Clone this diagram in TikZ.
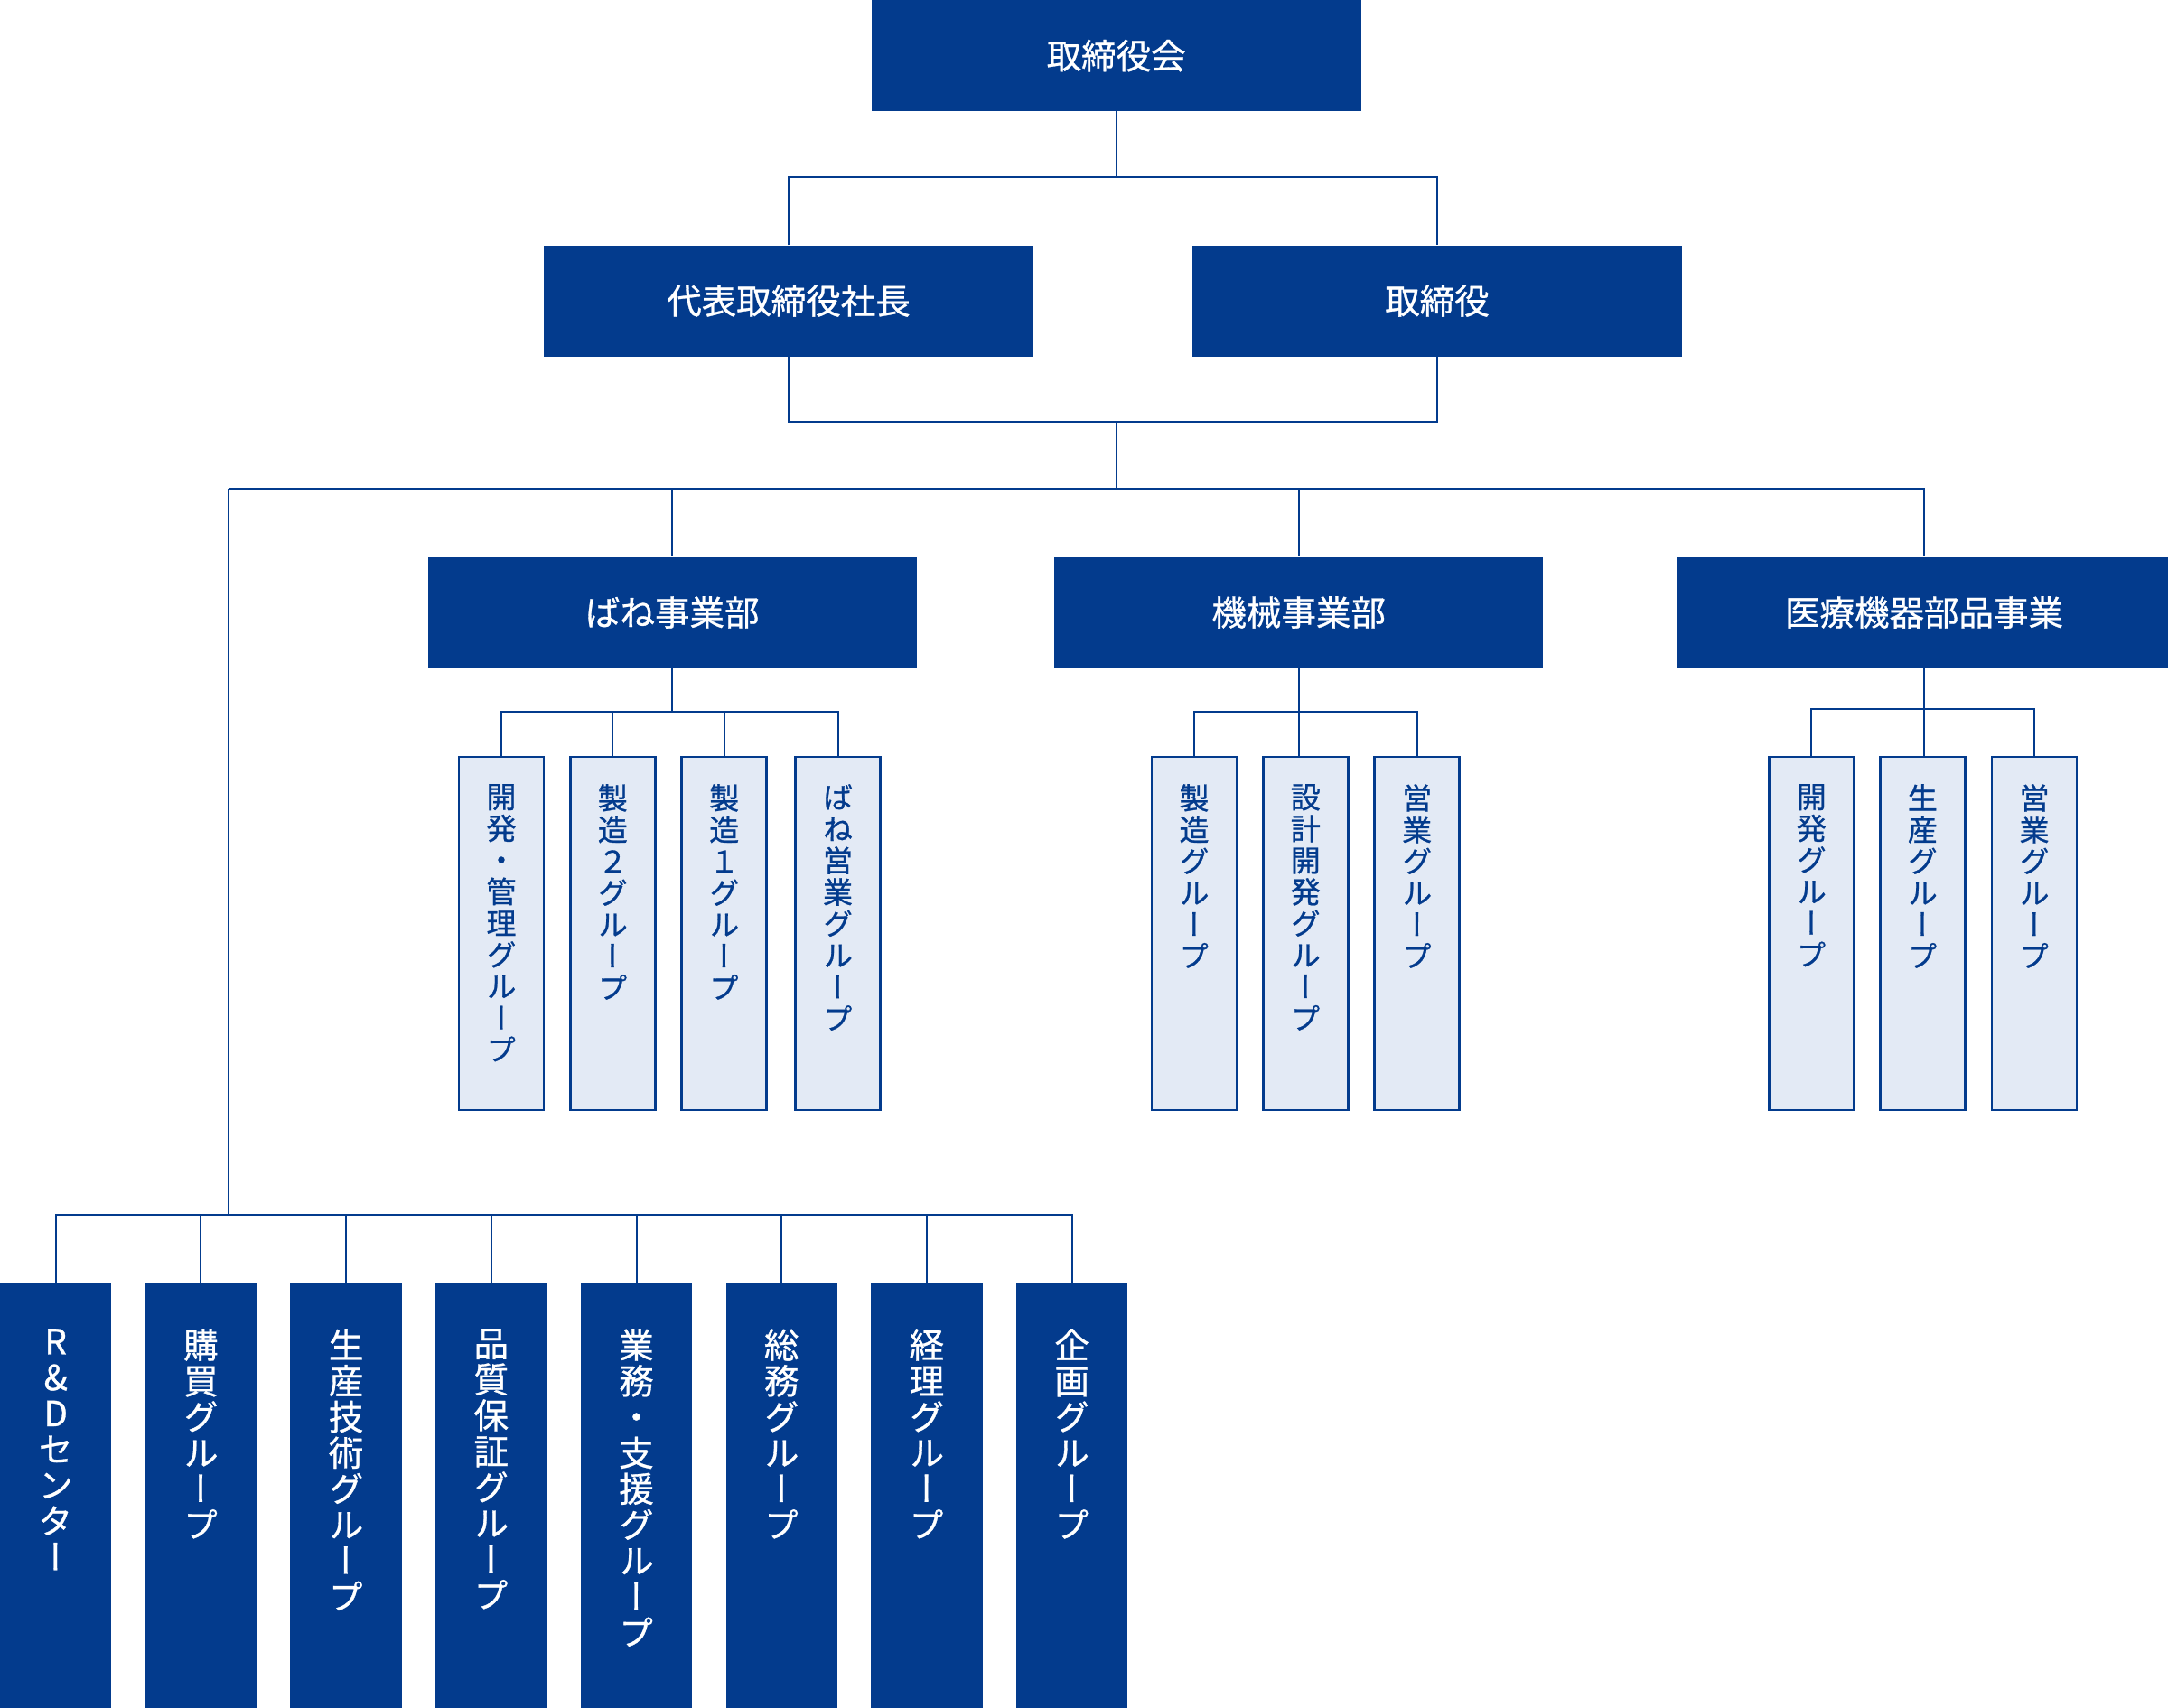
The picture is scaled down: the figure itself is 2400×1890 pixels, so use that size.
\documentclass[tikz,border=0pt]{standalone}
\usepackage{fontspec}
\newfontfamily\jp[FakeBold=0.8]{Noto Sans CJK JP}
\newfontfamily\jpv[RawFeature=+vert,FakeBold=0.8]{Noto Sans CJK JP}
\definecolor{navy}{RGB}{3,59,141}
\definecolor{pale}{RGB}{227,234,245}
\def\vtloop#1{\ifx\relax#1\else\hbox to 0pt{\hss#1\hss}\expandafter\vtloop\fi}
\newcommand\vtext[2]{\vbox{\baselineskip=#1\lineskiplimit=-1000pt\lineskip=0pt\expandafter\vtloop#2\relax}}
\tikzset{
  hdr/.style={rectangle, fill=navy, draw=none, inner sep=0pt, minimum width=542pt, minimum height=123pt,
    text=white, font=\jp\fontsize{38.5}{40}\selectfont},
  subbox/.style={rectangle, fill=pale, draw=navy, line width=2.5pt, inner sep=0pt, minimum width=94pt, minimum height=391pt},
  subtext/.style={anchor=north, inner sep=0pt, text=navy, font=\jpv\fontsize{33}{35}\selectfont},
  grpbox/.style={rectangle, fill=navy, draw=none, inner sep=0pt, minimum width=123.3pt, minimum height=470pt},
  grptext/.style={anchor=north, inner sep=0pt, text=white, font=\jpv\fontsize{38.5}{39.8}\selectfont},
  conn/.style={draw=navy, line width=2pt}
}
\begin{document}
\begin{tikzpicture}[x=1pt,y=-1pt]
\useasboundingbox[fill=white] (0,0) rectangle (2400,1890);
% headers
\node[hdr] (board) at (1235.7,61.7) {取締役会};
\node[hdr] (pres) at (873,333) {代表取締役社長};
\node[hdr] (dir) at (1591,333) {取締役};
\node[hdr, minimum width=541pt] (spring) at (744.3,678) {ばね事業部};
\node[hdr, minimum width=541pt] (mech) at (1437.7,678) {機械事業部};
\node[hdr, minimum width=546pt] (med) at (2130,678) {医療機器部品事業};
% bus coordinates
\coordinate (b1) at (0,196);
\coordinate (b2) at (0,467.3);
\coordinate (b3) at (0,541.3);
\coordinate (b4) at (0,1345);
\coordinate (lv) at (252.5,541.3);
\coordinate (sb) at (0,787.5);
\coordinate (mb) at (0,785);
% spring groups
\node[subbox] (s1) at (555,1033.3) {};
\node[subbox] (s2) at (678.3,1033.3) {};
\node[subbox] (s3) at (801.7,1033.3) {};
\node[subbox] (s4) at (927.5,1033.3) {};
\node[subtext] (s1t) at (555,868) {\vtext{35pt}{開発・管理グループ}};
\node[subtext] (s2t) at (678.3,868) {\vtext{35pt}{製造２グループ}};
\node[subtext] (s3t) at (801.7,868) {\vtext{35pt}{製造１グループ}};
\node[subtext] (s4t) at (927.5,868) {\vtext{35pt}{ばね営業グループ}};
% mech groups
\node[subbox] (m1) at (1322,1033.3) {};
\node[subbox] (m2) at (1445.3,1033.3) {};
\node[subbox] (m3) at (1568.7,1033.3) {};
\node[subtext] (m1t) at (1322,868) {\vtext{35pt}{製造グループ}};
\node[subtext] (m2t) at (1445.3,868) {\vtext{35pt}{設計開発グループ}};
\node[subtext] (m3t) at (1568.7,868) {\vtext{35pt}{営業グループ}};
% med groups
\node[subbox] (d1) at (2005.3,1033.3) {};
\node[subbox] (d2) at (2128.3,1033.3) {};
\node[subbox] (d3) at (2252,1033.3) {};
\node[subtext] (d1t) at (2005.3,868) {\vtext{35pt}{開発グループ}};
\node[subtext] (d2t) at (2128.3,868) {\vtext{35pt}{生産グループ}};
\node[subtext] (d3t) at (2252,868) {\vtext{35pt}{営業グループ}};
% bottom groups
\foreach \i/\txt in {1/{R\&Dセンター},2/{購買グループ},3/{生産技術グループ},4/{品質保証グループ},5/{業務・支援グループ},6/{総務グループ},7/{経理グループ},8/{企画グループ}}{
  \node[grpbox] (g\i) at ({61.7+160.7*(\i-1)},1655.7) {};
  \node[grptext] (g\i t) at ({61.7+160.7*(\i-1)},1471) {\vtext{39.8pt}{\txt}};
}
% connectors
\draw[conn] (board.south) -- (board.south |- b1);
\draw[conn] (pres.north) -- (pres.north |- b1) -- (dir.north |- b1) -- (dir.north);
\draw[conn] (pres.south) -- (pres.south |- b2) -- (dir.south |- b2) -- (dir.south);
\draw[conn] (board.south |- b2) -- (board.south |- b3);
\draw[conn] (lv) -- (med.north |- b3) -- (med.north);
\draw[conn] (spring.north |- b3) -- (spring.north);
\draw[conn] (mech.north |- b3) -- (mech.north);
\draw[conn] (lv) -- (lv |- b4);
\draw[conn] (g1.north) -- (g1.north |- b4) -- (g8.north |- b4) -- (g8.north);
\foreach \i in {2,...,7}{\draw[conn] (g\i.north |- b4) -- (g\i.north);}
\draw[conn] (spring.south) -- (spring.south |- sb);
\draw[conn] (s1.north) -- (s1.north |- sb) -- (s4.north |- sb) -- (s4.north);
\draw[conn] (s2.north |- sb) -- (s2.north);
\draw[conn] (s3.north |- sb) -- (s3.north);
\draw[conn] (mech.south) -- (mech.south |- m2.north);
\draw[conn] (m1.north) -- (m1.north |- sb) -- (m3.north |- sb) -- (m3.north);
\draw[conn] (med.south) -- (med.south |- d2.north);
\draw[conn] (d1.north) -- (d1.north |- mb) -- (d3.north |- mb) -- (d3.north);
\end{tikzpicture}
\end{document}
